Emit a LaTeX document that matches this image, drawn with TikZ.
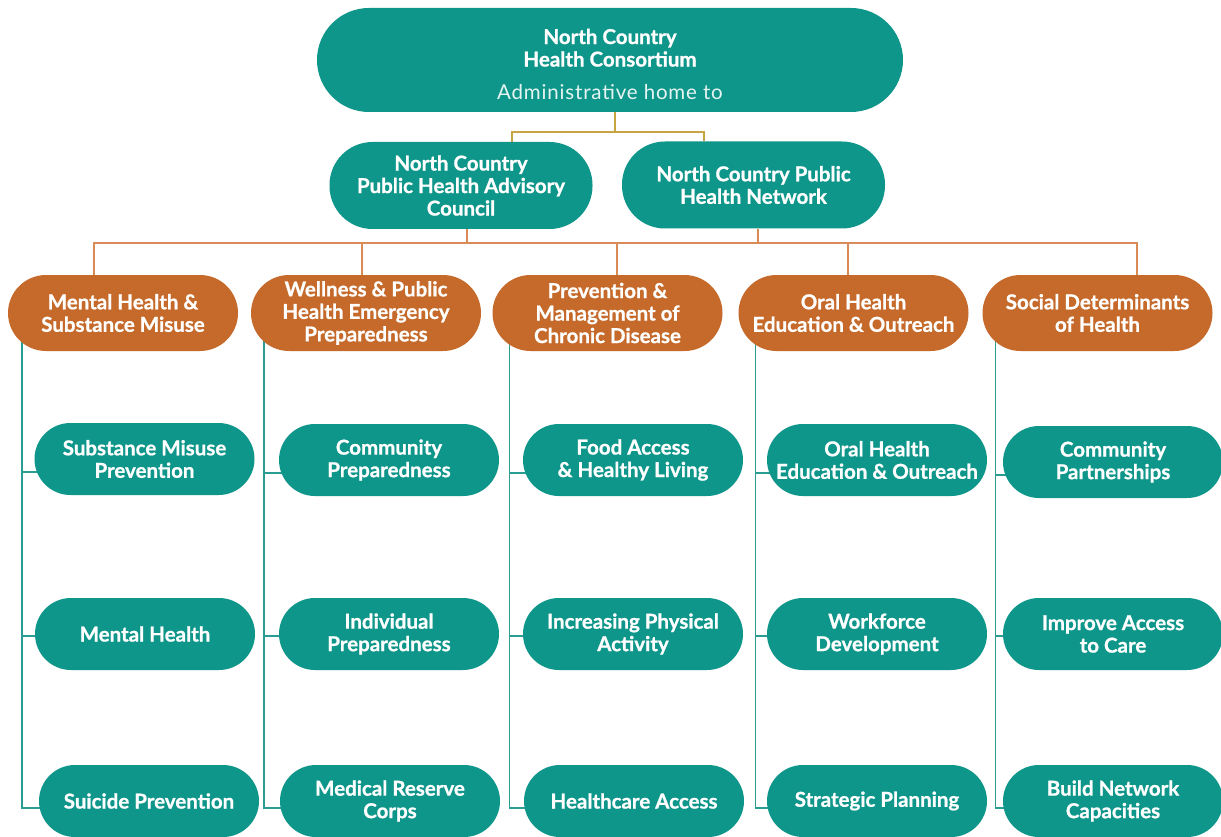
\documentclass[tikz,border=0pt]{standalone}
\usepackage{fontspec}
\setmainfont{Lato}[BoldFeatures={FakeBold=0.9}]
\usetikzlibrary{backgrounds}
\definecolor{tealc}{HTML}{0F968A}
\definecolor{orangec}{HTML}{C56A2A}
\definecolor{goldc}{HTML}{C9A443}
\definecolor{olinec}{HTML}{D98A55}
\definecolor{tlinec}{HTML}{2A9D93}
\definecolor{subc}{HTML}{E6F4F2}
\tikzset{
  pill/.style={rectangle, text=white, align=center, inner sep=0pt,
    font=\fontsize{20.5}{22.5}\selectfont\bfseries},
  tealpill/.style={pill, fill=tealc, minimum width=220pt, minimum height=72pt, rounded corners=36pt},
  orangepill/.style={pill, fill=orangec, minimum width=230pt, minimum height=76pt, rounded corners=38pt},
  midpill/.style={pill, fill=tealc, minimum width=263pt, minimum height=87pt, rounded corners=43pt},
  toppill/.style={pill, fill=tealc, minimum width=586pt, minimum height=104pt, rounded corners=52pt},
  goldline/.style={draw=goldc, line width=1.6pt},
  oline/.style={draw=olinec, line width=1.6pt},
  tline/.style={draw=tlinec, line width=1.6pt},
}
\begin{document}
\begin{tikzpicture}[x=1pt,y=-1pt]
\useasboundingbox (0,0) rectangle (1221,837);
% top
\node[toppill] (top) at (610,60) {};
\node[pill, anchor=center] (toptext) at (610,64) {North Country\\Health Consortium\\[10pt]{\mdseries\addfontfeatures{LetterSpace=4}\color{subc}Administrative home to}};
\node[midpill] (adv) at (461,185.5) {North Country\\Public Health Advisory\\Council};
\node[midpill] (net) at (753.5,185) {North Country Public\\Health Network};
% orange
\node[orangepill] (o1) at (123,313) {Mental Health \&\\Substance Misuse};
\node[orangepill] (o2) at (366,313) {Wellness \& Public\\Health Emergency\\Preparedness};
\node[orangepill] (o3) at (607.5,313) {Prevention \&\\Management of\\Chronic Disease};
\node[orangepill] (o4) at (853.5,313) {Oral Health\\Education \& Outreach};
\node[orangepill] (o5) at (1097.5,313) {Social Determinants\\of Health};
% children
\node[tealpill] (k11) at (144.5,459) {Substance Misuse\\Prevention};
\node[tealpill] (k12) at (145,634) {Mental Health};
\node[tealpill] (k13) at (149,801) {Suicide Prevention};
\node[tealpill] (k21) at (389,460) {Community\\Preparedness};
\node[tealpill] (k22) at (389,634) {Individual\\Preparedness};
\node[tealpill] (k23) at (390,801) {Medical Reserve\\Corps};
\node[tealpill] (k31) at (633,460) {Food Access\\\& Healthy Living};
\node[tealpill] (k32) at (633,634) {Increasing Physical\\Activity};
\node[tealpill] (k33) at (634,801) {Healthcare Access};
\node[tealpill] (k41) at (877,460) {Oral Health\\Education \& Outreach};
\node[tealpill] (k42) at (877,634) {Workforce\\Development};
\node[tealpill] (k43) at (877,801) {Strategic Planning};
\node[tealpill] (k51) at (1113,462) {Community\\Partnerships};
\node[tealpill] (k52) at (1113,634) {Improve Access\\to Care};
\node[tealpill] (k53) at (1113,801) {Build Network\\Capacities};
\begin{scope}[on background layer]
\fill[white] (0,0) rectangle (1221,837);
% gold connectors
\coordinate (g0) at ([xshift=5pt]top.south);
\coordinate (ga) at ([xshift=51pt]adv.north);
\coordinate (gb) at ([xshift=-49.5pt]net.north);
\coordinate (gbus) at (0,132);
\draw[goldline] (g0) -- (g0 |- gbus);
\draw[goldline] (ga) -- (ga |- gbus) -- (gb |- gbus) -- (gb);
% orange bus
\coordinate (bus) at (0,243);
\coordinate (pa) at ([xshift=6pt]adv.south);
\coordinate (pb) at ([xshift=4.5pt]net.south);
\coordinate (a1) at ([xshift=-29pt]o1.north);
\coordinate (a2) at ([xshift=-4pt]o2.north);
\coordinate (a3) at ([xshift=9.5pt]o3.north);
\coordinate (a4) at ([xshift=-5.5pt]o4.north);
\coordinate (a5) at ([xshift=39.5pt]o5.north);
\draw[oline] (pa) -- (pa |- bus);
\draw[oline] (pb) -- (pb |- bus);
\draw[oline] (a1) -- (a1 |- bus) -- (a5 |- bus) -- (a5);
\draw[oline] (a2) -- (a2 |- bus);
\draw[oline] (a3) -- (a3 |- bus);
\draw[oline] (a4) -- (a4 |- bus);
% teal column lines
\foreach \i/\dx in {1/14,2/13,3/17,4/17,5/13}{
  \coordinate (c\i) at ([xshift=\dx pt,yshift=12pt]o\i.south west);
  \coordinate (r\i1) at ([yshift=-13pt]k\i1.center);
  \coordinate (r\i2) at ([yshift=-2pt]k\i2.center);
  \coordinate (r\i3) at ([yshift=-7pt]k\i3.center);
  \draw[tline] (c\i) |- (r\i3);
  \draw[tline] (c\i |- r\i1) -- (r\i1);
  \draw[tline] (c\i |- r\i2) -- (r\i2);
}
\end{scope}
\end{tikzpicture}
\end{document}
